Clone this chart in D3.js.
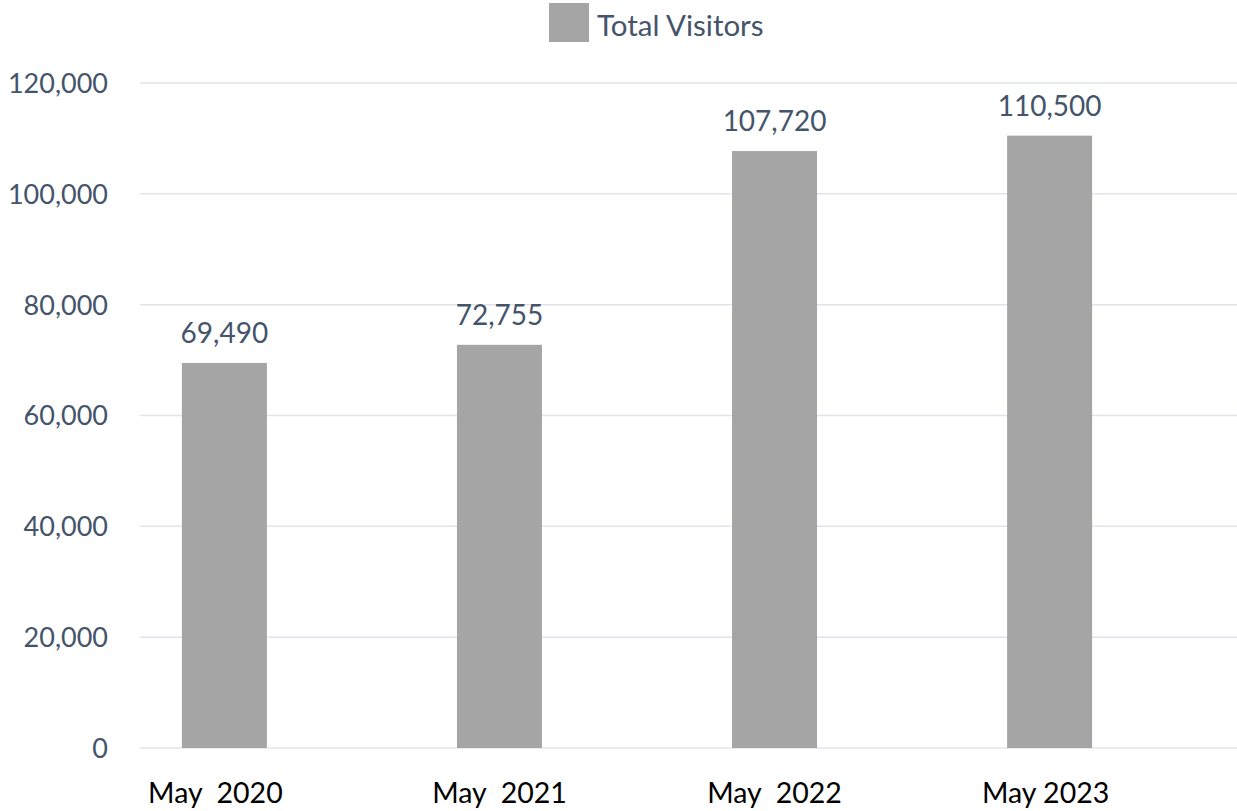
<!DOCTYPE html>
<html><head><meta charset="utf-8">
<script src="https://cdn.jsdelivr.net/npm/d3@7"></script>
<style>body{margin:0;background:#fff;}svg{display:block;font-family:Lato,"Open Sans",sans-serif;}</style>
</head><body>
<svg id="chart" width="1237" height="811"></svg>
<script>
const categories = ["May  2020", "May  2021", "May  2022", "May 2023"];
const values = [69490, 72755, 107720, 110500];
const yTicks = [0, 20000, 40000, 60000, 80000, 100000, 120000];
const seriesName = "Total Visitors";

const svg = d3.select("#chart");
const mLeft = 140, mRight = 1237, mTop = 83, mBottom = 748;

const x = d3.scaleBand().domain(categories).range([87, 1187]).paddingInner(0.691).paddingOuter(0.345);
const y = d3.scaleLinear().domain([0, 120000]).range([mBottom, mTop]);
const fmt = d3.format(",");

// gridlines
svg.append("g").selectAll("line").data(yTicks).join("line")
  .attr("x1", mLeft).attr("x2", mRight)
  .attr("y1", d => y(d)).attr("y2", d => y(d))
  .attr("stroke", "#E1E4EA").attr("stroke-width", 1.5);

// y axis labels
const yAxis = d3.axisLeft(y).tickValues(yTicks).tickFormat(fmt).tickSize(0).tickPadding(0);
const ya = svg.append("g").attr("transform", "translate(108,0)").call(yAxis);
ya.select(".domain").remove();
ya.selectAll("text").attr("fill", "#44546A").attr("font-size", 27).attr("font-family", "Lato, sans-serif").attr("dy", "0.35em");

// bars
svg.append("g").selectAll("rect").data(values).join("rect")
  .attr("x", (d, i) => x(categories[i]))
  .attr("width", x.bandwidth())
  .attr("y", d => y(d))
  .attr("height", d => y(0) - y(d))
  .attr("fill", "#A5A5A5");

// data labels
svg.append("g").selectAll("text").data(values).join("text")
  .attr("x", (d, i) => x(categories[i]) + x.bandwidth() / 2)
  .attr("y", d => y(d) - 20)
  .attr("text-anchor", "middle")
  .attr("font-size", 28)
  .attr("fill", "#44546A")
  .text(d => fmt(d));

// x labels
const xAxis = d3.axisBottom(x).tickSize(0).tickPadding(0);
const xa = svg.append("g").call(xAxis);
xa.select(".domain").remove();
xa.selectAll(".tick").attr("transform", d => `translate(${x(d) + x.bandwidth() / 2 + (d === "May  2020" ? -9 : d === "May 2023" ? -4 : 0)},0)`);
xa.selectAll("text").attr("y", 803).attr("dy", 0).attr("fill", "#000").attr("font-size", 28.5)
  .attr("font-family", "Lato, sans-serif").style("white-space", "pre");

// legend
const lg = svg.append("g");
lg.append("rect").attr("x", 549).attr("y", 3).attr("width", 40).attr("height", 39).attr("fill", "#A5A5A5");
lg.append("text").attr("x", 597).attr("y", 36).attr("font-size", 29.5).attr("fill", "#44546A").text(seriesName);
</script>
</body></html>
